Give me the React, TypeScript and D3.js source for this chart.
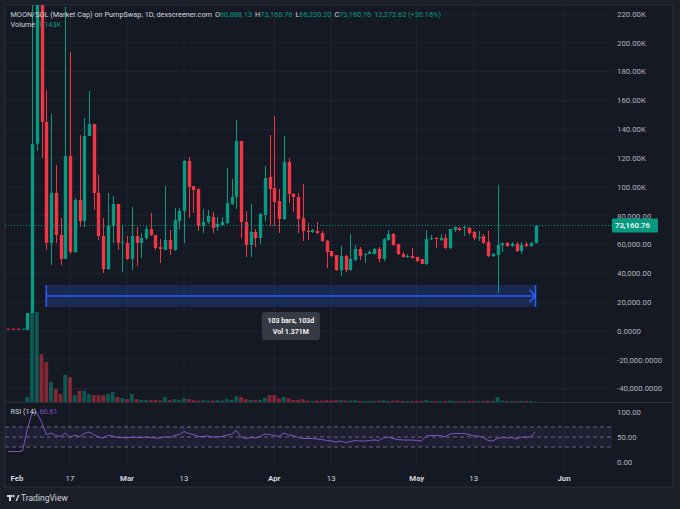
import { useEffect } from "react";
import * as d3 from "d3";

// daily bars, first bar = 2025-02-04, values in thousands
const FIRST_BAR = "2025-02-04";

const opens = [
  1.6, 1.5, 1.5, 1.3, 0.7, 12.5, 130, 232, 145, 61.1,
  95.8, 66.6, 50, 121.4, 54.8, 90.9, 76.3, 135.3, 143.6, 95.8,
  65.9, 43, 72.9, 88.1, 61.1, 61.1, 50, 65.9, 61.1, 64.5,
  70.8, 66.6, 58.3, 56.2, 63.2, 56.2, 76.3, 83.3, 118, 100.6,
  98.5, 72.9, 75.6, 79.1, 72.2, 73.6, 75, 88.1, 93, 131.9,
  75.6, 59.7, 68.7, 64.5, 80.5, 106.9, 99.2, 90.2, 77.7, 117.3,
  95.1, 93, 78.4, 69.4, 68.7, 69.4, 68, 62.5, 55.5, 52.7,
  42.3, 52, 42.3, 49.3, 56.9, 52.7, 53.4, 53.4, 56.9, 50,
  63.2, 67.3, 60.4, 53.4, 51.4, 52, 51.4, 50, 46.5, 63.8,
  64.5, 63.2, 64.5, 57.6, 70.1, 71.5, 71.5, 71.5, 68.7, 64.5,
  65.9, 61.8, 52, 52.7, 59.7, 61.1, 59, 60.4, 55.5, 60.4,
  59, 60.888,
];

const highs = [
  1.7, 1.6, 1.6, 1.7, 12.5, 240, 250, 245, 167, 150.6,
  115.2, 78.4, 225, 193.6, 92, 136, 147.8, 166.6, 143.6, 108.3,
  78.4, 95.8, 93.7, 88.1, 72.9, 65.9, 86, 72.2, 68, 72.9,
  81.9, 66.6, 63.8, 100.6, 70.1, 85.4, 85.4, 118.7, 120.7, 100.6,
  99.2, 84.7, 84, 82.6, 79.1, 79.1, 113, 105.5, 146.4, 131.9,
  83.3, 88.1, 70.8, 82, 114.5, 136, 149.2, 98.5, 135.3, 120,
  96, 95.8, 102, 74.9, 70.8, 75.6, 69.4, 63.2, 55.5, 52.7,
  59, 52.7, 67.3, 59.7, 58.3, 54.1, 56.2, 57.8, 58.3, 64.5,
  70.1, 68, 60.4, 55, 53.4, 57.6, 51.4, 50, 70.1, 66.6,
  65.4, 67.3, 67, 70.8, 72.4, 72.4, 73.6, 72.4, 69.4, 69.4,
  67.3, 69.4, 54.1, 101.3, 61.1, 62, 61.8, 61.8, 61.8, 61.8,
  61.8, 73.161,
];

const lows = [
  1.2, 1.2, 1.2, 1.2, 0.7, 12.5, 125, 120, 56.2, 45.8,
  61.1, 45.8, 50, 53.4, 54.1, 72.2, 72.2, 135.3, 84, 63.2,
  40.2, 42.3, 61, 56.2, 40.9, 49.3, 42.3, 45.1, 50.7, 63.2,
  65.9, 56.2, 47.2, 56.2, 52.7, 55.5, 70.8, 61.1, 78.4, 81.9,
  69.4, 68, 74.3, 68, 69.4, 72.9, 74.3, 87.4, 84.7, 64.5,
  51.4, 51.4, 58.3, 60.4, 76.3, 72.9, 72.9, 68, 77, 88.8,
  82.6, 68, 62.5, 63.2, 68, 67.3, 61.8, 43.7, 51.4, 41.6,
  38.2, 40.9, 41.6, 48.6, 49.3, 47.2, 53.4, 52.7, 47.9, 48.6,
  62.5, 59, 52.7, 50.7, 50.7, 50, 47.9, 46.5, 45.8, 63.2,
  57.6, 62.5, 56.9, 56.9, 68.7, 69.4, 65.9, 66.6, 63.2, 62.5,
  60.4, 51.4, 51.4, 26.4, 54.8, 58.3, 58.3, 54.8, 53.4, 58.3,
  58.3, 60.888,
];

const closes = [
  1.4, 1.4, 1.4, 1.6, 12.5, 129.8, 232, 145, 61.1, 95.8,
  66.6, 50, 121.4, 54.8, 90.9, 76.3, 135.3, 143.6, 95.8, 65.9,
  43, 72.9, 88.1, 61.1, 61.8, 50, 65.9, 61.1, 64.5, 70.8,
  66.6, 57.6, 56.9, 63.2, 56.9, 77, 83.3, 118, 100, 97.8,
  72.9, 75.6, 79.8, 71.5, 74.3, 75.6, 88.8, 93, 131.9, 75.6,
  59.7, 68.7, 64.5, 81.2, 106.2, 98.5, 89.5, 77.7, 117.3, 95.1,
  93, 77.7, 69.4, 68.7, 70.1, 68, 62.5, 54.8, 52, 42.3,
  52, 42.3, 50, 56.9, 52, 53.4, 54.8, 56.9, 50, 63.8,
  67.3, 59.7, 53.4, 51.4, 52, 50.7, 48.6, 46.5, 63.8, 64.5,
  63.8, 64.5, 57.6, 70.8, 72.2, 70.1, 72.2, 68, 64.5, 65.2,
  61.1, 52, 53.4, 59.7, 61.1, 59, 60.4, 55.5, 59.7, 59,
  61.1, 73.161,
];

const volumes = [
  0.5, 0.5, 0.5, 0.8, 14, 250, 250, 133, 111, 56,
  36, 22, 75, 69, 19, 31, 31, 22, 19, 19,
  19, 22, 28, 14, 11, 8, 22, 8, 6, 6,
  5, 6, 4, 14, 5, 8, 6, 10, 8, 5,
  4, 5, 4, 4, 5, 4, 8, 6, 16, 14,
  8, 6, 5, 6, 12, 19, 19, 10, 14, 10,
  6, 6, 8, 4, 3, 4, 4, 5, 4, 5,
  5, 4, 4, 5, 3, 3, 3, 3, 4, 5,
  3, 4, 4, 3, 3, 3, 3, 3, 5, 3,
  3, 3, 3, 4, 3, 3, 3, 3, 3, 3,
  3, 4, 3, 14, 4, 3, 3, 3, 3, 3,
  3, 1.143,
];

const rsiValues = [
  21, 21, 21, 22, 65, 98, 99, 80, 55, 58,
  53, 51, 58, 49, 54, 51, 57, 60, 55, 50,
  48, 53, 52, 49, 49, 48, 50, 49, 49, 50,
  49, 48, 48, 50, 49, 53, 55, 61, 57, 55,
  51, 51, 52, 50, 50, 51, 54, 55, 63, 50,
  47, 49, 48, 51, 56, 55, 53, 51, 58, 54,
  53, 49, 47, 47, 47, 46, 45, 43, 42, 40,
  42, 39, 41, 43, 42, 42, 43, 44, 43, 48,
  50, 47, 45, 44, 44, 44, 43, 42, 52, 53,
  53, 53, 50, 56, 57, 57, 57, 55, 52, 52,
  49, 43, 42, 47, 49, 48, 49, 46, 50, 49,
  51, 60.61,
];

const timeTicks = ["2025-02-01", "2025-02-17", "2025-03-01", "2025-03-13", "2025-04-01", "2025-04-13", "2025-05-01", "2025-05-13", "2025-06-01"];
const timeTickLabels = ["Feb", "17", "Mar", "13", "Apr", "13", "May", "13", "Jun"];

const priceTicks = [220, 200, 180, 160, 140, 120, 100, 80, 60, 40, 20, 0, -20, -40];
const priceTickLabels = ["220.00K", "200.00K", "180.00K", "160.00K", "140.00K", "120.00K", "100.00K", "80,000.00", "60,000.00", "40,000.00", "20,000.00", "0.0000", "-20,000.0000", "-40,000.0000"];

const rsiTicks = [100, 50, 0];
const rsiTickLabels = ["100.00", "50.00", "0.00"];
const rsiBands = [70, 50, 30];

// measure tool: from bar to bar, price range
const measureFrom = "2025-02-12";
const measureTo = "2025-05-26";
const measureTop = 31.9;
const measureBottom = 16.7;
const measureLines = ["103 bars, 103d", "Vol 1.371M"];

const lastPrice = 73.161;

const UP = "#089981";
const DOWN = "#f23645";
const FONT = "Roboto, 'Liberation Sans', sans-serif";

const W = 680;
const H = 509;
const PANE_L = 5;
const PANE_R = 612;
const PRICE_TOP = 5;
const PRICE_BOTTOM = 402;
const RSI_BOTTOM = 467;

const utc = (s: string) => new Date(s + "T00:00:00Z");

export default function App() {
  useEffect(() => {
    document.body.style.margin = "0";
    document.body.style.background = "#1b1f2a";
  }, []);

  const start = utc(FIRST_BAR).getTime();
  const bars = opens.map((o, i) => ({
    date: new Date(start + i * 86400000),
    o,
    h: highs[i],
    l: lows[i],
    c: closes[i],
    v: volumes[i],
    rsi: rsiValues[i],
  }));

  const x = d3.scaleUtc().domain([utc("2025-02-01"), utc("2025-06-01")]).range([-6, 564]);
  const y = d3.scaleLinear().domain([-40, 220]).range([388.6, 14]);
  const yVol = d3.scaleLinear().domain([0, 250]).range([PRICE_BOTTOM, 312]);
  const yRsi = d3.scaleLinear().domain([0, 100]).range([462, 412]);

  const step = x(bars[1].date) - x(bars[0].date);
  const bodyW = step * 0.72;
  const volW = step * 0.8;

  const rsiLine = d3
    .line<(typeof bars)[number]>()
    .x((d) => x(d.date))
    .y((d) => yRsi(d.rsi));

  const mx0 = x(utc(measureFrom));
  const mx1 = x(utc(measureTo));
  const my0 = y(measureTop);
  const my1 = y(measureBottom);
  const myMid = (my0 + my1) / 2;
  const mxMid = (mx0 + mx1) / 2;

  const yLast = y(lastPrice);

  return (
    <svg width={W} height={H} style={{ display: "block", fontFamily: FONT }}>
      <defs>
        <clipPath id="price-clip">
          <rect x={PANE_L} y={PRICE_TOP} width={PANE_R - PANE_L} height={PRICE_BOTTOM - PRICE_TOP} />
        </clipPath>
        <clipPath id="rsi-clip">
          <rect x={PANE_L} y={PRICE_BOTTOM + 1} width={PANE_R - PANE_L} height={RSI_BOTTOM - PRICE_BOTTOM - 1} />
        </clipPath>
      </defs>

      <rect x={0} y={0} width={W} height={H} fill="#1b1f2a" />
      <rect x={5} y={5} width={668} height={482} fill="#151924" stroke="#2a2e39" />

      {/* grid */}
      {timeTicks.map((t) => (
        <line key={t} x1={x(utc(t))} x2={x(utc(t))} y1={PRICE_TOP} y2={RSI_BOTTOM} stroke="#1f2432" />
      ))}
      {priceTicks.map((v) => (
        <line key={v} x1={PANE_L} x2={PANE_R} y1={y(v)} y2={y(v)} stroke="#1f2432" />
      ))}

      {/* volume */}
      <g clipPath="url(#price-clip)">
        {bars.map((b, i) => (
          <rect
            key={i}
            x={x(b.date) - volW / 2}
            y={yVol(b.v)}
            width={volW}
            height={PRICE_BOTTOM - yVol(b.v)}
            fill={b.c >= b.o ? UP : DOWN}
            opacity={0.5}
          />
        ))}
      </g>

      {/* measure box */}
      <rect x={mx0} y={my0} width={mx1 - mx0} height={my1 - my0} fill="rgba(41,98,255,0.22)" />
      <line x1={mx0} x2={mx1} y1={myMid} y2={myMid} stroke="#2962ff" strokeWidth={1.5} />
      <line x1={mx0} x2={mx0} y1={my0} y2={my1} stroke="#2962ff" strokeWidth={1.5} />
      <line x1={mx1} x2={mx1} y1={my0} y2={my1} stroke="#2962ff" strokeWidth={1.5} />
      <path
        d={`M${mx1 - 6},${myMid - 6}L${mx1},${myMid}L${mx1 - 6},${myMid + 6}`}
        fill="none"
        stroke="#2962ff"
        strokeWidth={1.5}
      />

      {/* candles */}
      <g clipPath="url(#price-clip)">
        {bars.map((b, i) => {
          const cx = Math.round(x(b.date)) + 0.5;
          const col = b.c >= b.o ? UP : DOWN;
          const top = y(Math.max(b.o, b.c));
          const bot = y(Math.min(b.o, b.c));
          return (
            <g key={i}>
              <line x1={cx} x2={cx} y1={y(b.h)} y2={y(b.l)} stroke={col} strokeWidth={1} shapeRendering="crispEdges" />
              <rect x={cx - bodyW / 2} y={top} width={bodyW} height={Math.max(1, bot - top)} fill={col} />
            </g>
          );
        })}
      </g>

      {/* last price line */}
      <line x1={PANE_L} x2={PANE_R} y1={yLast} y2={yLast} stroke={UP} strokeDasharray="1 2" strokeWidth={1} />

      {/* measure label */}
      <rect x={mxMid - 29} y={my1 + 5} width={58} height={28} rx={3} fill="#363a45" />
      {measureLines.map((s, i) => (
        <text key={s} x={mxMid} y={my1 + 16 + i * 11} fill="#ffffff" fontSize={7} fontWeight={600} textAnchor="middle">
          {s}
        </text>
      ))}

      {/* pane separator */}
      <line x1={5} x2={673} y1={PRICE_BOTTOM + 0.5} y2={PRICE_BOTTOM + 0.5} stroke="#2a2e39" />

      {/* RSI pane */}
      <rect x={PANE_L} y={yRsi(70)} width={PANE_R - PANE_L} height={yRsi(30) - yRsi(70)} fill="rgba(126,87,194,0.1)" />
      {rsiBands.map((v) => (
        <line
          key={v}
          x1={PANE_L}
          x2={PANE_R}
          y1={yRsi(v)}
          y2={yRsi(v)}
          stroke="#787b86"
          strokeDasharray="4 3"
          opacity={0.8}
        />
      ))}
      <path d={rsiLine(bars) ?? ""} fill="none" stroke="#7e57c2" strokeWidth={1} clipPath="url(#rsi-clip)" />

      {/* price axis */}
      {priceTicks.map((v, i) => (
        <text key={v} x={617} y={y(v) + 2.8} fill="#b2b5be" fontSize={7.8}>
          {priceTickLabels[i]}
        </text>
      ))}
      <rect x={612} y={yLast - 7} width={46} height={14} fill={UP} rx={1} />
      <text x={615} y={yLast + 2.8} fill="#ffffff" fontSize={7.8} fontWeight={500}>
        73,160.76
      </text>

      {rsiTicks.map((v, i) => (
        <text key={v} x={617} y={yRsi(v) + 2.8} fill="#b2b5be" fontSize={7.8}>
          {rsiTickLabels[i]}
        </text>
      ))}

      {/* time axis */}
      {timeTicks.map((t, i) => (
        <text
          key={t}
          x={Math.max(17, x(utc(t)))}
          y={481}
          fill="#d1d4dc"
          fontSize={7.8}
          fontWeight={i % 2 === 0 ? 700 : 400}
          textAnchor="middle"
        >
          {timeTickLabels[i]}
        </text>
      ))}

      {/* legends */}
      <text x={10.5} y={17} fontSize={7.3} fill="#d1d4dc">
        MOON/SOL (Market Cap) on PumpSwap, 1D, dexscreener.com
        <tspan dx={3}>O</tspan>
        <tspan fill={UP}>60,888.13</tspan>
        <tspan dx={3}>H</tspan>
        <tspan fill={UP}>73,160.76</tspan>
        <tspan dx={3}>L</tspan>
        <tspan fill={UP}>66,230.20</tspan>
        <tspan dx={3}>C</tspan>
        <tspan fill={UP}>73,160.76</tspan>
        <tspan dx={3} fill={UP}>12,272.62 (+20.16%)</tspan>
      </text>
      <text x={10.5} y={27} fontSize={7.3} fill="#d1d4dc">
        Volume
        <tspan dx={3} fill={UP}>1.143K</tspan>
      </text>
      <text x={10.5} y={414} fontSize={7.3} fill="#d1d4dc">
        RSI (14)
        <tspan dx={3} fill="#7e57c2">60.61</tspan>
      </text>

      {/* footer logo */}
      <g fill="#d1d4dc">
        <rect x={7} y={495} width={5} height={2} />
        <rect x={9} y={495} width={2} height={6} />
        <circle cx={13.5} cy={496} r={1.2} />
        <path d="M15.5,501 L18,495 L19.5,495 L17,501 Z" />
      </g>
      <text x={21} y={501} fontSize={8.5} fill="#d1d4dc">
        TradingView
      </text>
    </svg>
  );
}
